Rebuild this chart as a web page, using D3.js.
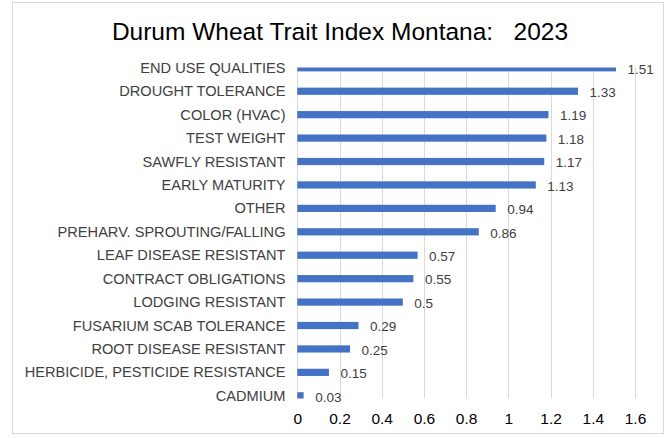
<!DOCTYPE html>
<html>
<head>
<meta charset="utf-8">
<script src="https://cdn.jsdelivr.net/npm/d3@7"></script>
<style>
  body { margin: 0; background: #fff; }
  text { font-family: "Liberation Sans", Arial, sans-serif; }
</style>
</head>
<body>
<svg id="chart" width="670" height="438"></svg>
<script>
// trait categories, top to bottom
var traits = [
	"END USE QUALITIES", "DROUGHT TOLERANCE", "COLOR (HVAC)", "TEST WEIGHT",
	"SAWFLY RESISTANT", "EARLY MATURITY", "OTHER", "PREHARV. SPROUTING/FALLING",
	"LEAF DISEASE RESISTANT", "CONTRACT OBLIGATIONS", "LODGING RESISTANT",
	"FUSARIUM SCAB TOLERANCE", "ROOT DISEASE RESISTANT",
	"HERBICIDE, PESTICIDE RESISTANCE", "CADMIUM"
];
var indexValues = [1.51, 1.33, 1.19, 1.18, 1.17, 1.13, 0.94, 0.86, 0.57, 0.55, 0.5, 0.29, 0.25, 0.15, 0.03];
var xTicks = [0, 0.2, 0.4, 0.6, 0.8, 1, 1.2, 1.4, 1.6];

var svg = d3.select("#chart");

// chart frame
svg.append("rect")
	.attr("x", 12.5).attr("y", 2.5)
	.attr("width", 651).attr("height", 431)
	.attr("fill", "#fff")
	.attr("stroke", "#d9d9d9");

svg.append("text")
	.attr("x", 340).attr("y", 40)
	.attr("text-anchor", "middle")
	.attr("font-size", "24.5px")
	.attr("fill", "#000")
	.style("white-space", "pre")
	.text("Durum Wheat Trait Index Montana:   2023");

var x = d3.scaleLinear().domain([0, 1.6]).range([297.3, 635]);
var y = d3.scalePoint().domain(traits).range([67.8, 395.8]);
var plotTop = 67.5, plotBottom = 398.5;

svg.append("clipPath").attr("id", "plotclip")
	.append("rect")
	.attr("x", 290).attr("y", plotTop)
	.attr("width", 360).attr("height", plotBottom - plotTop);

// vertical gridlines
svg.append("g")
	.selectAll("line")
	.data(xTicks)
	.enter()
	.append("line")
	.attr("x1", function(d) { return Math.round(x(d)) + 0.5; })
	.attr("x2", function(d) { return Math.round(x(d)) + 0.5; })
	.attr("y1", plotTop).attr("y2", plotBottom)
	.attr("stroke", "#d9d9d9")
	.attr("stroke-width", 1);

// x tick labels
var xAxis = d3.axisBottom(x).tickValues(xTicks).tickSize(0).tickPadding(0)
	.tickFormat(function(d) { return d3.format("")(d); });
var gx = svg.append("g")
	.attr("transform", "translate(0,406)")
	.call(xAxis);
gx.select(".domain").remove();
gx.selectAll("text")
	.attr("font-size", "15.5px")
	.attr("font-family", "Liberation Sans, Arial, sans-serif")
	.attr("fill", "#000")
	.attr("dy", "1.15em");

// bars
svg.append("g")
	.attr("clip-path", "url(#plotclip)")
	.selectAll("rect")
	.data(indexValues)
	.enter()
	.append("rect")
	.attr("x", x(0))
	.attr("y", function(d, i) { return y(traits[i]) - 3.6; })
	.attr("width", function(d) { return Math.max(x(d) - x(0), 2.5); })
	.attr("height", 7.2)
	.attr("fill", "#4472c4");

// category labels
svg.append("g")
	.selectAll("text")
	.data(traits)
	.enter()
	.append("text")
	.attr("x", 285.5)
	.attr("y", function(d) { return y(d); })
	.attr("dy", "0.35em")
	.attr("text-anchor", "end")
	.attr("font-size", "14.6px")
	.attr("fill", "#404040")
	.text(function(d) { return d; });

// value labels
svg.append("g")
	.selectAll("text")
	.data(indexValues)
	.enter()
	.append("text")
	.attr("x", function(d) { return Math.max(x(d), x(0) + 2.5) + 11.5; })
	.attr("y", function(d, i) { return y(traits[i]) + 1; })
	.attr("dy", "0.35em")
	.attr("font-size", "13.5px")
	.attr("fill", "#404040")
	.text(function(d) { return d; });
</script>
</body>
</html>
